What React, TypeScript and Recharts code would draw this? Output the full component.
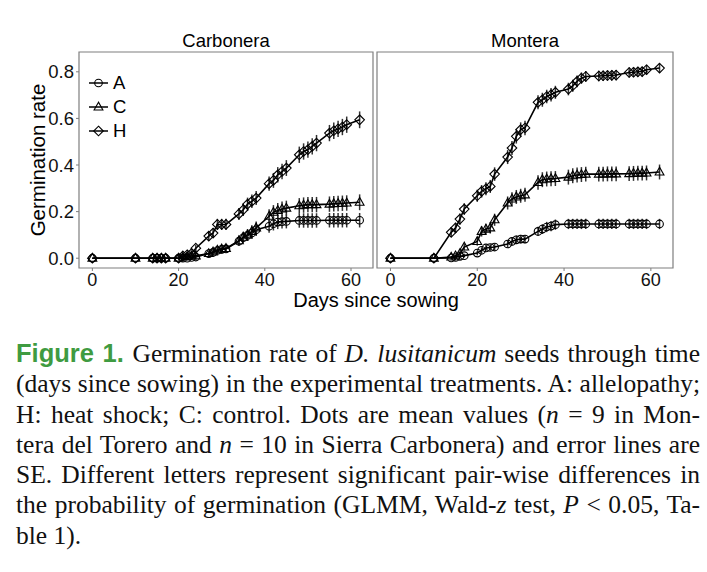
import React from 'react';
import { LineChart, Line, XAxis, YAxis, ErrorBar, ReferenceArea, Legend } from 'recharts';

// observation days (same for both sites)
const DAYS = [0, 10, 14, 15, 16, 17, 20, 21, 22, 23, 24, 27, 28, 29, 30, 31, 34, 35, 36, 37, 38, 41, 42, 43, 44, 45, 48, 49, 50, 51, 52, 55, 56, 57, 58, 59, 62];

// Carbonera means
const CARB_A = [0, 0, 0, 0, 0, 0, 0, 0, 0, 0.003, 0.005, 0.02, 0.025, 0.033, 0.038, 0.04, 0.073, 0.088, 0.098, 0.108, 0.122, 0.137, 0.148, 0.155, 0.157, 0.158, 0.162, 0.162, 0.162, 0.162, 0.162, 0.163, 0.163, 0.163, 0.163, 0.163, 0.163];
const CARB_C = [0, 0, 0, 0, 0, 0, 0, 0.005, 0.008, 0.01, 0.01, 0.02, 0.027, 0.035, 0.04, 0.042, 0.075, 0.09, 0.1, 0.115, 0.13, 0.18, 0.197, 0.205, 0.211, 0.215, 0.225, 0.228, 0.23, 0.23, 0.23, 0.232, 0.234, 0.235, 0.236, 0.237, 0.24];
const CARB_H = [0, 0, 0, 0, 0, 0, 0, 0.01, 0.015, 0.02, 0.043, 0.095, 0.108, 0.145, 0.145, 0.145, 0.19, 0.208, 0.232, 0.244, 0.258, 0.32, 0.334, 0.358, 0.372, 0.387, 0.444, 0.458, 0.466, 0.48, 0.494, 0.537, 0.547, 0.555, 0.563, 0.573, 0.594];
// Carbonera SE
const CARB_A_SE = [0, 0, 0, 0, 0, 0, 0, 0, 0, 0.003, 0.005, 0.01, 0.012, 0.014, 0.015, 0.015, 0.02, 0.022, 0.024, 0.025, 0.027, 0.028, 0.029, 0.03, 0.03, 0.03, 0.031, 0.031, 0.031, 0.031, 0.031, 0.031, 0.031, 0.031, 0.031, 0.031, 0.031];
const CARB_C_SE = [0, 0, 0, 0, 0, 0, 0, 0.005, 0.007, 0.008, 0.008, 0.012, 0.014, 0.016, 0.017, 0.018, 0.022, 0.024, 0.025, 0.027, 0.028, 0.03, 0.031, 0.032, 0.032, 0.032, 0.033, 0.033, 0.033, 0.033, 0.033, 0.033, 0.033, 0.033, 0.033, 0.033, 0.034];
const CARB_H_SE = [0, 0, 0, 0, 0, 0, 0, 0.008, 0.01, 0.012, 0.015, 0.02, 0.021, 0.024, 0.024, 0.024, 0.026, 0.027, 0.028, 0.029, 0.03, 0.031, 0.032, 0.033, 0.033, 0.034, 0.035, 0.035, 0.035, 0.035, 0.035, 0.035, 0.035, 0.035, 0.035, 0.035, 0.036];

// Montera means
const MONT_A = [0, 0, 0.001, 0.003, 0.008, 0.011, 0.022, 0.034, 0.044, 0.046, 0.048, 0.061, 0.072, 0.079, 0.082, 0.082, 0.115, 0.125, 0.134, 0.138, 0.144, 0.147, 0.147, 0.147, 0.147, 0.147, 0.147, 0.147, 0.147, 0.147, 0.147, 0.147, 0.147, 0.147, 0.147, 0.147, 0.147];
const MONT_C = [0, 0, 0.005, 0.01, 0.02, 0.048, 0.072, 0.115, 0.125, 0.13, 0.165, 0.237, 0.254, 0.263, 0.268, 0.272, 0.325, 0.337, 0.34, 0.341, 0.342, 0.348, 0.354, 0.357, 0.359, 0.361, 0.361, 0.361, 0.362, 0.362, 0.362, 0.363, 0.364, 0.365, 0.365, 0.366, 0.37];
const MONT_H = [0, 0, 0.111, 0.13, 0.168, 0.211, 0.268, 0.287, 0.298, 0.308, 0.361, 0.434, 0.473, 0.523, 0.552, 0.559, 0.669, 0.68, 0.694, 0.702, 0.712, 0.726, 0.74, 0.759, 0.773, 0.78, 0.782, 0.783, 0.784, 0.785, 0.786, 0.797, 0.798, 0.8, 0.801, 0.809, 0.816];
// Montera SE
const MONT_A_SE = [0, 0, 0.002, 0.004, 0.007, 0.008, 0.01, 0.012, 0.014, 0.014, 0.015, 0.016, 0.017, 0.018, 0.018, 0.018, 0.02, 0.021, 0.022, 0.022, 0.022, 0.022, 0.022, 0.022, 0.022, 0.022, 0.022, 0.022, 0.022, 0.022, 0.022, 0.022, 0.022, 0.022, 0.022, 0.022, 0.022];
const MONT_C_SE = [0, 0, 0.004, 0.006, 0.01, 0.015, 0.018, 0.022, 0.023, 0.024, 0.026, 0.028, 0.029, 0.03, 0.03, 0.03, 0.031, 0.032, 0.032, 0.032, 0.032, 0.032, 0.032, 0.032, 0.032, 0.032, 0.032, 0.032, 0.032, 0.032, 0.032, 0.032, 0.032, 0.032, 0.032, 0.032, 0.032];
const MONT_H_SE = [0, 0, 0.02, 0.022, 0.024, 0.025, 0.026, 0.027, 0.028, 0.028, 0.029, 0.03, 0.03, 0.031, 0.031, 0.031, 0.03, 0.03, 0.029, 0.029, 0.028, 0.027, 0.026, 0.025, 0.024, 0.023, 0.022, 0.022, 0.022, 0.022, 0.022, 0.021, 0.021, 0.021, 0.021, 0.021, 0.02];

const TREATMENTS = ['A', 'C', 'H'];
const X_TICKS = [0, 20, 40, 60];
const Y_TICKS = [0, 0.2, 0.4, 0.6, 0.8];
const X_DOMAIN: [number, number] = [-3.1, 65.1];
const Y_DOMAIN: [number, number] = [-0.042, 0.885];

const CAPTION_LINES = [
  'Germination rate of |D. lusitanicum| seeds through time',
  '(days since sowing) in the experimental treatments. A: allelopathy;',
  'H: heat shock; C: control. Dots are mean values (|n| = 9 in Mon-',
  'tera del Torero and |n| = 10 in Sierra Carbonera) and error lines are',
  'SE. Different letters represent significant pair-wise differences in',
  'the probability of germination (GLMM, Wald-|z| test, |P| < 0.05, Ta-',
  'ble 1).',
];

const GRAY = '#7f7f7f';
const SANS = '"Liberation Sans", Arial, sans-serif';
const SERIF = '"Liberation Serif", "Times New Roman", serif';

function Marker({ cx, cy, t }: { cx: number; cy: number; t: string }) {
  if (cx == null || cy == null) return null;
  const common = { fill: 'none', stroke: '#000', strokeWidth: 1.1 };
  if (t === 'A') return <circle cx={cx} cy={cy} r={3.8} {...common} />;
  if (t === 'C') {
    return <polygon points={`${cx},${cy - 4.8} ${cx - 4.4},${cy + 3} ${cx + 4.4},${cy + 3}`} {...common} />;
  }
  return <polygon points={`${cx},${cy - 4.8} ${cx + 4.8},${cy} ${cx},${cy + 4.8} ${cx - 4.8},${cy}`} {...common} />;
}

function buildRows(a: number[], c: number[], h: number[], aSe: number[], cSe: number[], hSe: number[]) {
  return DAYS.map((day, i) => ({ day, A: a[i], C: c[i], H: h[i], A_se: aSe[i], C_se: cSe[i], H_se: hSe[i] }));
}

const carbRows = buildRows(CARB_A, CARB_C, CARB_H, CARB_A_SE, CARB_C_SE, CARB_H_SE);
const montRows = buildRows(MONT_A, MONT_C, MONT_H, MONT_A_SE, MONT_C_SE, MONT_H_SE);

function LegendBox() {
  return (
    <div>
      {TREATMENTS.map((t) => (
        <div key={t} style={{ display: 'flex', alignItems: 'center', height: 24 }}>
          <svg width={22} height={14}>
            <line x1={1} y1={7} x2={20} y2={7} stroke="#000" strokeWidth={1.5} />
            <Marker cx={10.5} cy={7} t={t} />
          </svg>
          <span style={{ marginLeft: 3, fontFamily: SANS, fontSize: 18.5, color: '#000', lineHeight: '24px' }}>{t}</span>
        </div>
      ))}
    </div>
  );
}

function Panel({ rows, width, showY, legend, left }: { rows: any[]; width: number; showY: boolean; legend: boolean; left: number }) {
  return (
    <LineChart width={width} height={300} data={rows} margin={{ top: 52, right: 3, bottom: 2, left }}>
      <XAxis
        type="number"
        dataKey="day"
        domain={X_DOMAIN}
        ticks={X_TICKS}
        allowDataOverflow
        height={30}
        tickSize={3}
        tickMargin={2}
        axisLine={false}
        tickLine={{ stroke: GRAY }}
        tick={{ fill: '#111', fontSize: 18, fontFamily: SANS }}
      />
      <YAxis
        type="number"
        domain={Y_DOMAIN}
        ticks={Y_TICKS}
        allowDataOverflow
        hide={!showY}
        width={79}
        tickSize={3}
        tickMargin={2}
        axisLine={false}
        tickLine={{ stroke: GRAY }}
        tick={{ fill: '#111', fontSize: 18.5, fontFamily: SANS }}
        tickFormatter={(v: number) => v.toFixed(1)}
      />
      <ReferenceArea
        x1={X_DOMAIN[0]}
        x2={X_DOMAIN[1]}
        y1={Y_DOMAIN[0]}
        y2={Y_DOMAIN[1]}
        fill="none"
        stroke={GRAY}
        strokeWidth={1.2}
        ifOverflow="visible"
      />
      {TREATMENTS.map((t) => (
        <Line
          key={t}
          dataKey={t}
          stroke="#000"
          strokeWidth={1.6}
          isAnimationActive={false}
          activeDot={false}
          dot={(p: any) => <Marker key={`${t}-${p.index}`} cx={p.cx} cy={p.cy} t={t} />}
        >
          <ErrorBar dataKey={`${t}_se`} direction="y" width={0} stroke="#333" strokeWidth={1.5} isAnimationActive={false} />
        </Line>
      ))}
      {legend && (
        <Legend
          layout="vertical"
          align="center"
          verticalAlign="middle"
          wrapperStyle={{ left: 88, top: 71, width: 'auto' }}
          content={() => <LegendBox />}
        />
      )}
    </LineChart>
  );
}

function renderCaptionLine(line: string) {
  return line.split('|').map((part, i) =>
    i % 2 === 1 ? <i key={i}>{part}</i> : <React.Fragment key={i}>{part}</React.Fragment>
  );
}

export default function App() {
  return (
    <div style={{ position: 'absolute', left: 0, top: 0, width: 707, height: 572, background: '#fff', overflow: 'hidden' }}>
      <div style={{ position: 'absolute', left: 0, top: 0 }}>
        <Panel rows={carbRows} width={376} showY legend left={0} />
      </div>
      <div style={{ position: 'absolute', left: 372, top: 0 }}>
        <Panel rows={montRows} width={304} showY={false} legend={false} left={5} />
      </div>
      <div style={{ position: 'absolute', left: 79, top: 31, width: 294, textAlign: 'center', fontFamily: SANS, fontSize: 18.5, lineHeight: '20px' }}>
        Carbonera
      </div>
      <div style={{ position: 'absolute', left: 377, top: 31, width: 296, textAlign: 'center', fontFamily: SANS, fontSize: 18.5, lineHeight: '20px' }}>
        Montera
      </div>
      <div style={{ position: 'absolute', left: -62, top: 148, width: 200, height: 24, lineHeight: '24px', textAlign: 'center', fontFamily: SANS, fontSize: 20.5, transform: 'rotate(-90deg)' }}>
        Germination rate
      </div>
      <div style={{ position: 'absolute', left: 286, top: 291, width: 180, textAlign: 'center', whiteSpace: 'nowrap', fontFamily: SANS, fontSize: 20, lineHeight: '19px' }}>
        Days since sowing
      </div>
      <div style={{ position: 'absolute', left: 16, top: 338, width: 684, fontFamily: SERIF, fontSize: 25.5, lineHeight: '30.3px', color: '#111' }}>
        {CAPTION_LINES.map((line, i) => (
          <div
            key={i}
            style={{
              whiteSpace: 'nowrap',
              textAlign: 'justify',
              textAlignLast: i === CAPTION_LINES.length - 1 ? 'left' : 'justify',
            }}
          >
            {i === 0 && (
              <span style={{ fontFamily: SANS, fontWeight: 'bold', color: '#3f9b41' }}>Figure 1. </span>
            )}
            {renderCaptionLine(line)}
          </div>
        ))}
      </div>
    </div>
  );
}
